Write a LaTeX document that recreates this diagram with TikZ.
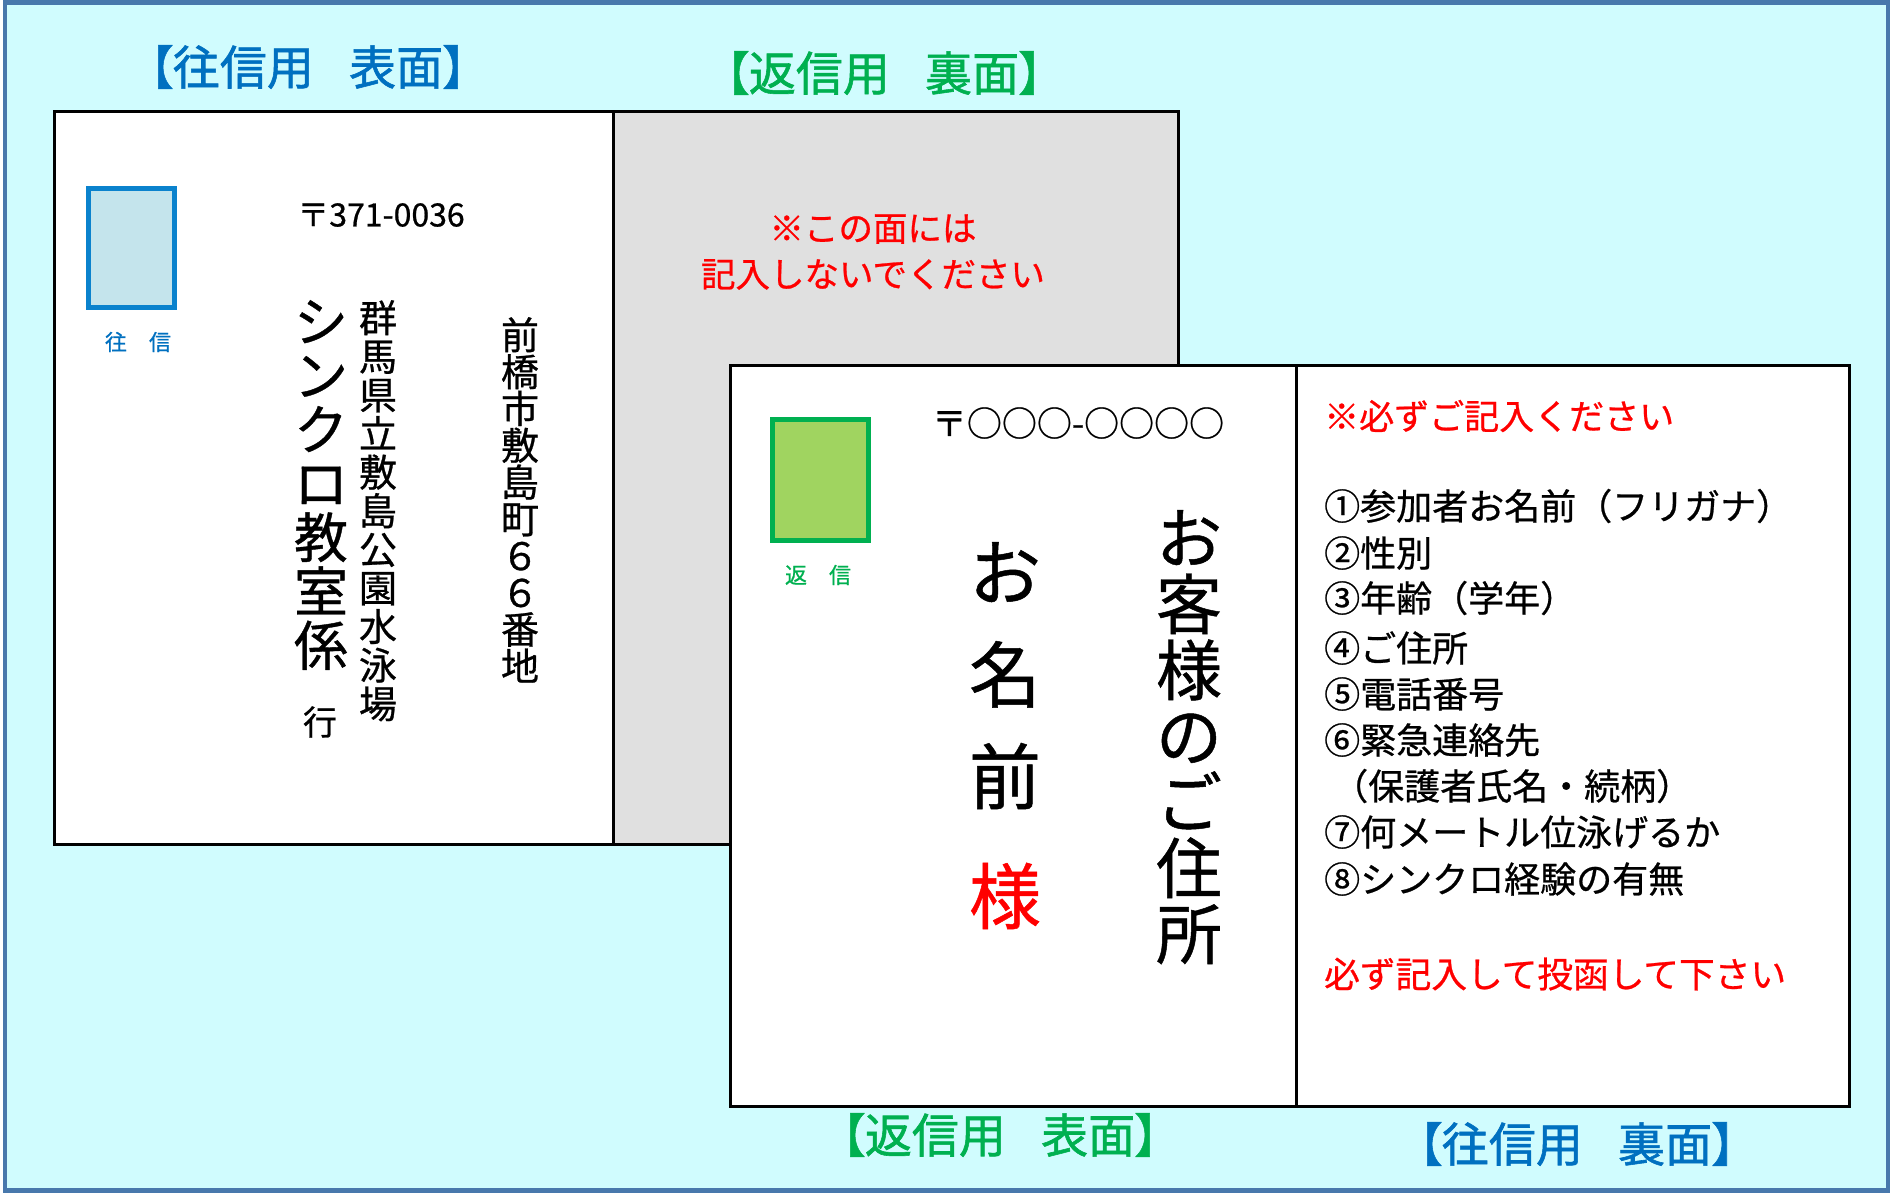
\documentclass[tikz,border=0pt]{standalone}
\usepackage{fontspec}
\setmainfont{Noto Sans CJK JP}[FakeBold=0.7]
\newfontfamily\palfont{Noto Sans CJK JP}[RawFeature=+palt, FakeBold=1.2]
\usetikzlibrary{positioning}
\definecolor{bgcyan}{RGB}{208,252,254}
\definecolor{framebl}{RGB}{72,120,172}
\definecolor{oublue}{RGB}{0,112,192}
\definecolor{hengreen}{RGB}{0,176,80}
\definecolor{stampbl}{RGB}{196,228,236}
\definecolor{stampbd}{RGB}{10,130,205}
\definecolor{stampgr}{RGB}{160,212,96}
\definecolor{greyface}{RGB}{224,224,224}
\setlength{\lineskiplimit}{-100pt}
\def\gap{\hspace{0.75em}}
\tikzset{
	card/.style={draw=black, line width=3pt},
	stamp/.style={line width=5pt},
	title/.style={inner sep=0pt, font=\palfont\fontsize{47}{47}\selectfont},
	tate/.style={align=center, inner sep=0pt, anchor=north},
	item/.style={anchor=west, inner sep=0pt, font=\fontsize{36}{36}\selectfont},
}

\begin{document}
\begin{tikzpicture}[x=1pt,y=-1pt]
				\useasboundingbox (0,0) rectangle (1890,1192);
				\draw[fill=bgcyan, draw=framebl, line width=4.5pt] (5,2.5) rectangle (1888.5,1190.5);
				
				\draw[card, fill=white] (54,111) rectangle (1178,844);
				\draw[card, fill=greyface] (613,111) rectangle (1178,844);
				\draw[card, fill=white] (730,365) rectangle (1849,1106);
				\draw[card] (1296,365) -- (1296,1106);
				
				\draw[stamp, draw=stampbd, fill=stampbl] (88.5,188.5) rectangle (174.5,307.5);
				\draw[stamp, draw=hengreen, fill=stampgr] (772.5,419.5) rectangle (868.5,540.5);
				\node[font=\fontsize{22}{22}\selectfont, text=oublue] (oustamp) at (138,342) {往　信};
				\node[font=\fontsize{22}{22}\selectfont, text=hengreen] (henstamp) at (818,575) {返　信};
				
				\node[title, text=oublue] (ouomote) at (308,67) {【往信用\gap 表面】};
				\node[title, text=hengreen] (henura) at (884,73) {【返信用\gap 裏面】};
				\node[title, text=hengreen] (henomote) at (1000,1135) {【返信用\gap 表面】};
				\node[title, text=oublue] (ouura) at (1577,1144) {【往信用\gap 裏面】};
				
				\node[font=\fontsize{32}{32}\selectfont] (zipou) at (381,215) {〒371-0036};
				\node[tate, font=\fontsize{54}{54}\selectfont] (atena) at (321,300) {シ\\ン\\ク\\ロ\\教\\室\\係};
				\node[font=\fontsize{34}{34}\selectfont] (iki) at (320,722) {行};
				\node[tate, font=\fontsize{38}{38.6}\selectfont] (addrb) at (378,300) {群\\馬\\県\\立\\敷\\島\\公\\園\\水\\泳\\場};
				\node[tate, font=\fontsize{38}{36.8}\selectfont] (addra) at (520,317) {前\\橋\\市\\敷\\島\\町\\６\\６\\番\\地};
				
				\node[align=center, text=red, font=\fontsize{34.5}{46}\selectfont] (nokaki) at (873,252) {※この面には\\記入しないでください};
				
				\node[font=\fontsize{35}{35}\selectfont] (ziphen) at (1078,423) {〒○○○-○○○○};
				\node[tate, font=\fontsize{72}{102}\selectfont] (onamae) at (1005,542) {お\\名\\前};
				\node[font=\fontsize{72}{72}\selectfont, text=red] (sama) at (1005,896) {様};
				\node[tate, font=\fontsize{66}{66}\selectfont] (gojusho) at (1189,510) {お\\客\\様\\の\\ご\\住\\所};
				
				\node[item, text=red, font=\fontsize{35}{35}\selectfont] (kanarazu) at (1324,416) {※必ずご記入ください};
				\node[item] (qa) at (1324,506) {①参加者お名前（フリガナ）};
				\node[item] (qb) at (1324,553) {②性別};
				\node[item] (qc) at (1324,598) {③年齢（学年）};
				\node[item] (qd) at (1324,648) {④ご住所};
				\node[item] (qe) at (1324,694) {⑤電話番号};
				\node[item] (qf) at (1324,740) {⑥緊急連絡先};
				\node[item] (qg) at (1332,786) {（保護者氏名・続柄）};
				\node[item] (qh) at (1324,832) {⑦何メートル位泳げるか};
				\node[item] (qi) at (1324,879) {⑧シンクロ経験の有無};
				\node[item, text=red, font=\fontsize{35.7}{35.7}\selectfont] (tokan) at (1324,974) {必ず記入して投函して下さい};
\end{tikzpicture}
\end{document}
